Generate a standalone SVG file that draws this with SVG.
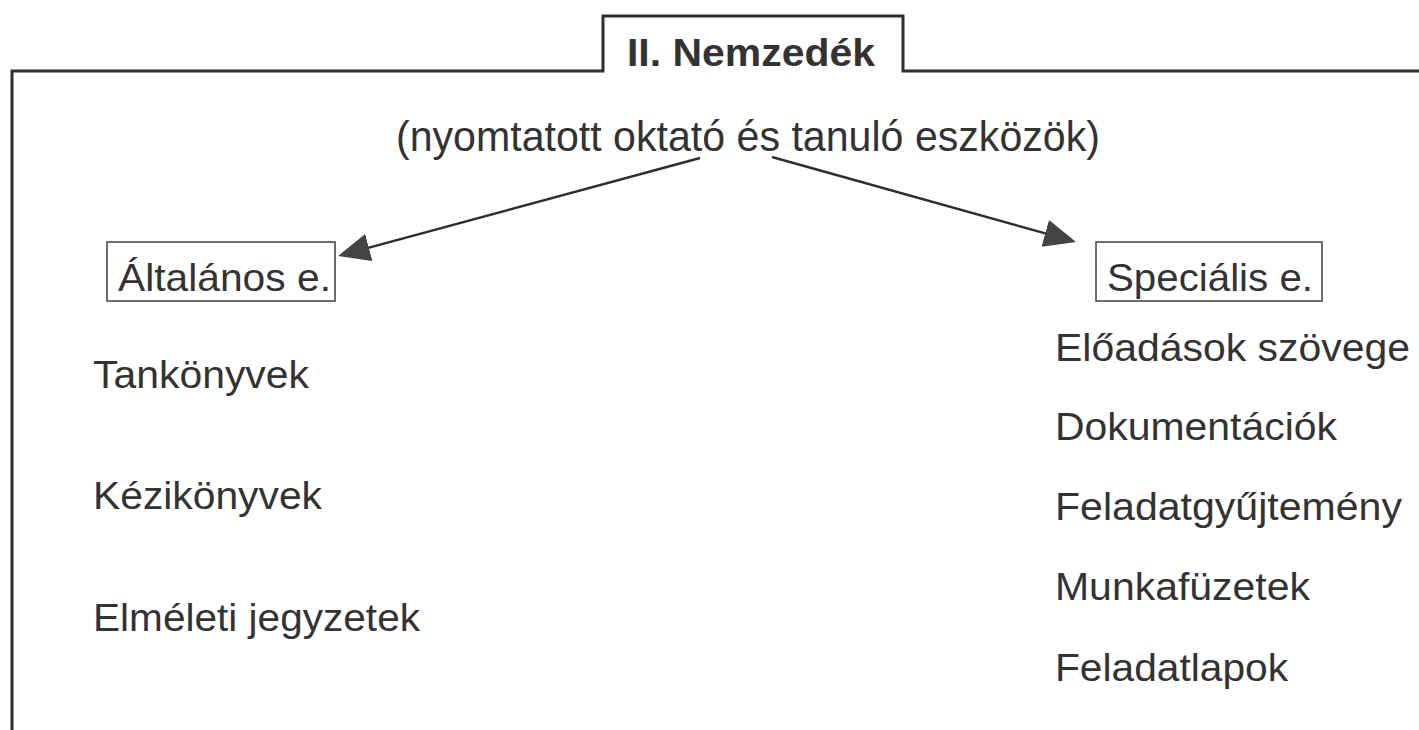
<svg xmlns="http://www.w3.org/2000/svg" width="1419" height="730" viewBox="0 0 1419 730">
  <style>
    .frame { fill: none; stroke: #2e2e2e; stroke-width: 3; }
    .box { fill: none; stroke: #4a4a4a; stroke-width: 1.6; }
    .conn { fill: none; stroke: #2e2e2e; stroke-width: 2.4; }
    .txt { font-family: "Liberation Sans", Arial, Helvetica, sans-serif; fill: #333333; }
    .title { font-weight: bold; font-size: 39px; }
    .sub { font-size: 43px; }
    .lbl { font-size: 39px; }
    .itemL { font-size: 38px; }
    .itemR { font-size: 38px; }
  </style>
  <defs>
    <marker id="arrow" viewBox="0 0 32 28" refX="16" refY="14" markerWidth="32" markerHeight="28" markerUnits="userSpaceOnUse" orient="auto">
      <path d="M0,0 L32,14 L0,28 Z" fill="#444444"/>
    </marker>
  </defs>

  <rect x="0" y="0" width="1419" height="730" fill="#ffffff"/>

  <!-- outer frame with the title tab -->
  <g id="frame">
    <path class="frame" d="M12,730 L12,71 L603,71 L603,16 L903,16 L903,71 L1419,71"/>
    <text class="txt title" x="627" y="66" textLength="248" lengthAdjust="spacingAndGlyphs">II. Nemzedék</text>
  </g>

  <!-- root subtitle -->
  <g id="root">
    <text class="txt sub" x="396" y="151" textLength="704" lengthAdjust="spacingAndGlyphs">(nyomtatott oktató és tanuló eszközök)</text>
  </g>

  <!-- connectors -->
  <g id="connectors">
    <line class="conn" x1="700" y1="158" x2="353.4" y2="251.8" marker-end="url(#arrow)"/>
    <line class="conn" x1="772" y1="157" x2="1060.6" y2="237.7" marker-end="url(#arrow)"/>
  </g>

  <!-- general branch -->
  <g id="general">
    <rect class="box" x="107" y="242" width="228" height="59"/>
    <text class="txt lbl" x="118" y="291" textLength="213" lengthAdjust="spacingAndGlyphs">Általános e.</text>
    <text class="txt itemL" x="93" y="388" textLength="216" lengthAdjust="spacingAndGlyphs">Tankönyvek</text>
    <text class="txt itemL" x="93" y="509" textLength="229" lengthAdjust="spacingAndGlyphs">Kézikönyvek</text>
    <text class="txt itemL" x="93" y="631" textLength="327" lengthAdjust="spacingAndGlyphs">Elméleti jegyzetek</text>
  </g>

  <!-- special branch -->
  <g id="special">
    <rect class="box" x="1096" y="242" width="226" height="59"/>
    <text class="txt lbl" x="1107" y="291" textLength="206" lengthAdjust="spacingAndGlyphs">Speciális e.</text>
    <text class="txt itemR" x="1055" y="361" textLength="355" lengthAdjust="spacingAndGlyphs">Előadások szövege</text>
    <text class="txt itemR" x="1055" y="440" textLength="282" lengthAdjust="spacingAndGlyphs">Dokumentációk</text>
    <text class="txt itemR" x="1055" y="520" textLength="347" lengthAdjust="spacingAndGlyphs">Feladatgyűjtemény</text>
    <text class="txt itemR" x="1055" y="600" textLength="255" lengthAdjust="spacingAndGlyphs">Munkafüzetek</text>
    <text class="txt itemR" x="1055" y="681" textLength="233" lengthAdjust="spacingAndGlyphs">Feladatlapok</text>
  </g>
</svg>
